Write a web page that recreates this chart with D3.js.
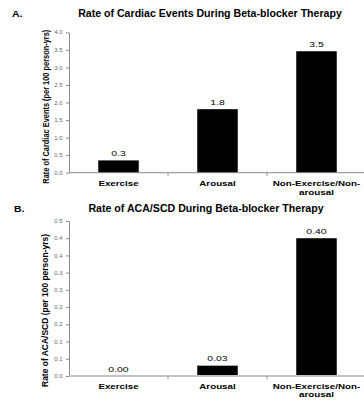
<!DOCTYPE html>
<html>
<head>
<meta charset="utf-8">
<script src="https://cdn.jsdelivr.net/npm/d3@7"></script>
<style>
  body { margin: 0; background: #fff; }
  svg { display: block; font-family: "Liberation Sans", Arial, sans-serif; }
</style>
</head>
<body>
<script>
// data
var categories = [['Exercise'], ['Arousal'], ['Non-Exercise/Non-', 'arousal']];

var cardiacRates = [0.35, 1.81, 3.46];
var cardiacLabels = ['0.3', '1.8', '3.5'];
var cardiacTicks = [0, 0.5, 1, 1.5, 2, 2.5, 3, 3.5, 4];
var cardiacTickLabels = ['0.0', '0.5', '1.0', '1.5', '2.0', '2.5', '3.0', '3.5', '4.0'];

var acaRates = [0, 0.03, 0.40];
var acaLabels = ['0.00', '0.03', '0.40'];
var acaTicks = [0, 0.05, 0.1, 0.15, 0.2, 0.25, 0.3, 0.35, 0.4, 0.45];
var acaTickLabels = ['0.0', '0.1', '0.1', '0.2', '0.2', '0.3', '0.3', '0.4', '0.4', '0.5'];

var svg = d3.select('body')
  .append('svg')
  .attr('width', 364)
  .attr('height', 401);

// the picture is stretched sideways, so the text is too
function put(sel, x, y, sx) {
  sel.attr('x', 0).attr('y', 0)
     .attr('transform', 'translate(' + x + ',' + y + ') scale(' + sx + ',1)');
}

var drawPanel = function(p) {
  var g = svg.append('g');

  var x = d3.scaleBand()
    .domain(d3.range(categories.length))
    .range([69, 366]);

  var y = d3.scaleLinear()
    .domain([0, p.max])
    .range([p.bottom, p.top]);

  var barW = 40.5;

  // letter + title
  put(g.append('text').text(p.letter)
        .style('font-weight', 'bold').style('font-size', '9.5px'),
      p.letterX, p.titleY, 1.1);
  put(g.append('text').text(p.title)
        .attr('text-anchor', 'middle')
        .style('font-weight', 'bold').style('font-size', '10.6px'),
      p.titleX, p.titleY, 1.0);

  // y axis
  var yAxis = g.append('g')
    .attr('transform', 'translate(69,0)')
    .call(d3.axisLeft(y)
      .tickValues(p.ticks)
      .tickFormat((d, i) => p.tickLabels[i])
      .tickSize(3)
      .tickSizeOuter(0));
  yAxis.select('.domain').attr('stroke', '#8a8a8a').attr('stroke-width', 1);
  yAxis.selectAll('.tick line').attr('stroke', '#8a8a8a');
  yAxis.selectAll('.tick text')
    .attr('fill', '#666')
    .style('font-size', '4.6px')
    .style('font-family', '"Liberation Sans", Arial, sans-serif')
    .attr('dy', '0.35em')
    .each(function() {
      d3.select(this).attr('x', 0)
        .attr('transform', 'translate(-6.5,0) scale(1.3,1)');
    });

  // y title
  g.append('text')
    .text(p.yTitle)
    .attr('text-anchor', 'middle')
    .attr('transform', 'translate(' + p.yTitleX + ',' + p.yTitleY + ') rotate(-90)')
    .attr('textLength', p.yTitleLen)
    .attr('lengthAdjust', 'spacingAndGlyphs')
    .style('font-weight', 'bold')
    .style('font-size', '8.2px');

  // bars
  g.selectAll('rect.bar')
    .data(p.values)
    .enter()
    .append('rect')
    .attr('class', 'bar')
    .attr('x', (d, i) => x(i) + x.bandwidth() / 2 - barW / 2)
    .attr('y', d => y(d))
    .attr('width', barW)
    .attr('height', d => y(0) - y(d))
    .attr('fill', '#000');

  // x axis line and ticks at category boundaries
  g.append('line')
    .attr('x1', 69).attr('x2', 366)
    .attr('y1', y(0)).attr('y2', y(0))
    .attr('stroke', p.xAxisColor)
    .attr('stroke-width', p.xAxisWidth);
  g.selectAll('line.xtick')
    .data(d3.range(1, categories.length))
    .enter()
    .append('line')
    .attr('class', 'xtick')
    .attr('x1', i => x(i)).attr('x2', i => x(i))
    .attr('y1', y(0)).attr('y2', y(0) + 3)
    .attr('stroke', '#8a8a8a');

  // value labels
  g.selectAll('text.val')
    .data(p.values)
    .enter()
    .append('text')
    .attr('class', 'val')
    .text((d, i) => p.labels[i])
    .attr('text-anchor', 'middle')
    .style('font-size', '7.2px')
    .each(function(d, i) {
      put(d3.select(this), x(i) + x.bandwidth() / 2, y(d) - 4.3, 1.45);
    });

  // category labels
  categories.forEach(function(lines, i) {
    lines.forEach(function(line, j) {
      put(g.append('text').text(line)
            .attr('text-anchor', 'middle')
            .style('font-weight', 'bold').style('font-size', '7.2px'),
          x(i) + x.bandwidth() / 2, y(0) + p.catGap + j * p.catLine, 1.36);
    });
  });
};

drawPanel({
  letter: 'A.', letterX: 12, titleX: 210, titleY: 16.7,
  title: 'Rate of Cardiac Events During Beta-blocker Therapy',
  yTitle: 'Rate of Cardiac Events (per 100 person-yrs)',
  yTitleX: 48.5, yTitleY: 106.7, yTitleLen: 154,
  max: 4, top: 32.3, bottom: 172.7,
  values: cardiacRates, labels: cardiacLabels,
  ticks: cardiacTicks, tickLabels: cardiacTickLabels,
  xAxisColor: '#8a8a8a', xAxisWidth: 1,
  catGap: 13, catLine: 9.5
});

drawPanel({
  letter: 'B.', letterX: 14, titleX: 206, titleY: 211.7,
  title: 'Rate of ACA/SCD During Beta-blocker Therapy',
  yTitle: 'Rate of ACA/SCD (per 100 person-yrs)',
  yTitleX: 48, yTitleY: 310.5, yTitleLen: 153,
  max: 0.45, top: 221, bottom: 376,
  values: acaRates, labels: acaLabels,
  ticks: acaTicks, tickLabels: acaTickLabels,
  xAxisColor: '#c4c4c4', xAxisWidth: 2,
  catGap: 12.5, catLine: 8.7
});
</script>
</body>
</html>
